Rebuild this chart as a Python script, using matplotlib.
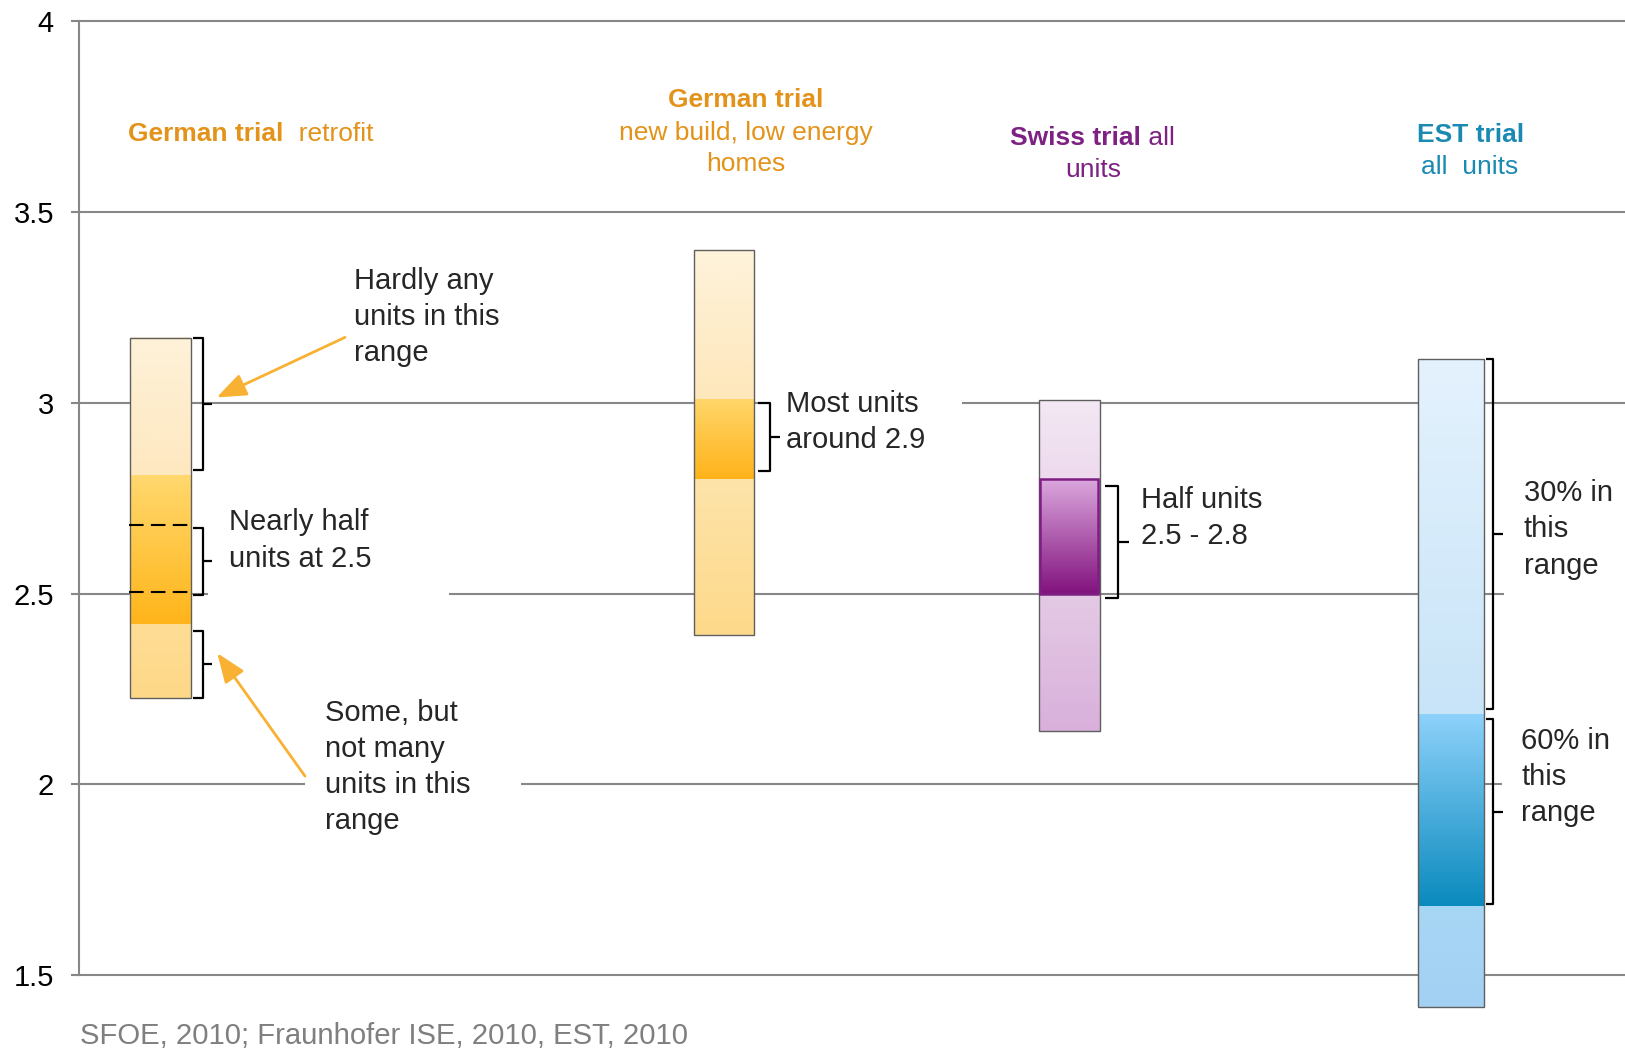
import matplotlib
matplotlib.use('Agg')
import matplotlib.pyplot as plt
import numpy as np
from matplotlib.patches import Rectangle
from matplotlib.path import Path
from matplotlib.patches import PathPatch
from matplotlib.colors import to_rgb

plt.rcParams['font.family'] = ['Liberation Sans', 'DejaVu Sans']

# ---------------- data ----------------
trials = ['German trial retrofit', 'German trial new build', 'Swiss trial', 'EST trial']
range_bottom = [2.225, 2.39, 2.14, 1.415]
core_low = [2.42, 2.80, 2.50, 1.68]
core_high = [2.81, 3.01, 2.80, 2.185]
range_top = [3.17, 3.40, 3.007, 3.115]
retrofit_dashed = [2.68, 2.505]
bracket_ranges = [
    [(2.825, 3.17), (2.496, 2.672), (2.226, 2.402)],
    [(2.822, 3.0)],
    [(2.487, 2.782)],
    [(2.197, 3.116), (1.686, 2.17)],
]
y_ticks = [1.5, 2, 2.5, 3, 3.5, 4]
y_tick_labels = ['1.5', '2', '2.5', '3', '3.5', '4']
source_note = 'SFOE, 2010; Fraunhofer ISE, 2010, EST, 2010'

# ---------------- layout / style ----------------
x_pos = [0.81, 6.45, 9.90, 13.72]
widths = [0.61, 0.605, 0.61, 0.662]
bracket_offsets = [(0.02, 0.12, 0.21), (0.035, 0.155, 0.255), (0.054, 0.184, 0.294), (0.02, 0.09, 0.19)]
seg_colors = [
    # (bottom seg top->bot), (core top->bot), (top seg top->bot)
    [('#FEDD95', '#FED888'), ('#FFD86E', '#FFB51A'), ('#FEF2D9', '#FEE8C0')],
    [('#FEE4AA', '#FDD98A'), ('#FFD66B', '#FFB31A'), ('#FEF3DB', '#FEE7BB')],
    [('#E4CAE5', '#D9B0DB'), ('#DBA7DD', '#82127E'), ('#F3E8F3', '#EDDAED')],
    [('#A8D6F5', '#A2D1F3'), ('#8ED2FB', '#0A8ABD'), ('#E4F2FD', '#C8E4F8')],
]
grid_color = '#878787'
text_color = '#262626'
orange_title = '#E3921A'
purple_title = '#7D2182'
teal_title = '#1A8AB3'
arrow_color = '#F8B133'
note_size = 21
title_size = 19

fig = plt.figure(figsize=(16.25, 10.5), dpi=100)
ax = fig.add_axes([79 / 1625, 75 / 1050, 1546 / 1625, 953.7 / 1050])
ax.set_xlim(0, 15.46)
ax.set_ylim(1.5, 4)

for y in y_ticks:
    ax.axhline(y, color=grid_color, lw=1.5, zorder=1, clip_on=False)
for s in ['top', 'right', 'bottom']:
    ax.spines[s].set_visible(False)
ax.spines['left'].set_color(grid_color)
ax.spines['left'].set_linewidth(1.5)
ax.set_xticks([])
ax.set_yticks(y_ticks)
ax.set_yticklabels(y_tick_labels)
ax.tick_params(axis='y', length=6, width=1.5, color=grid_color, pad=12,
               labelsize=21, labelcolor='black')


def gradient(x0, x1, lo, hi, c_top, c_bot, z=3):
    t = np.linspace(0, 1, 256)[:, None]
    a = np.array(to_rgb(c_top))
    b = np.array(to_rgb(c_bot))
    img = (a * (1 - t) + b * t)[:, None, :]
    im = ax.imshow(img, extent=[x0, x1, lo, hi], aspect='auto',
                   interpolation='bilinear', origin='upper', zorder=z)
    im.set_clip_on(False)


for i in range(len(trials)):
    x0 = x_pos[i] - widths[i] / 2
    x1 = x_pos[i] + widths[i] / 2
    segs = [(range_bottom[i], core_low[i]), (core_low[i], core_high[i]),
            (core_high[i], range_top[i])]
    for (lo, hi), (ct, cb) in zip(segs, seg_colors[i]):
        gradient(x0, x1, lo, hi, ct, cb)
    ax.add_patch(Rectangle((x0, range_bottom[i]), widths[i], range_top[i] - range_bottom[i],
                           fill=False, ec='#5f5f5f', lw=1.0, zorder=4, clip_on=False))
    # brackets
    hs, hv, ht = bracket_offsets[i]
    for lo, hi in bracket_ranges[i]:
        mid = (lo + hi) / 2
        verts = [(x1 + hs, hi), (x1 + hv, hi), (x1 + hv, lo), (x1 + hs, lo),
                 (x1 + hv, mid), (x1 + ht, mid)]
        codes = [Path.MOVETO, Path.LINETO, Path.LINETO, Path.LINETO, Path.MOVETO, Path.LINETO]
        ax.add_patch(PathPatch(Path(verts, codes), fill=False, ec='black', lw=1.6,
                               zorder=6, capstyle='butt', joinstyle='round'))

# Swiss core outline
sx0 = x_pos[2] - widths[2] / 2
ax.add_patch(Rectangle((sx0 + 0.015, core_low[2]), widths[2] - 0.03, core_high[2] - core_low[2],
                       fill=False, ec='#7D1F82', lw=1.8, zorder=5))

# retrofit dashed levels
rx0 = x_pos[0] - widths[0] / 2
ax.hlines(retrofit_dashed, rx0 - 0.01, rx0 + widths[0] - 0.03, colors='black',
          linestyles=(0, (7, 3.5)), lw=1.5, zorder=5)

# white text boxes that mask the gridlines
for (bx0, bx1, by0, by1) in [(1.29, 3.70, 2.45, 2.75), (2.26, 4.42, 1.80, 2.25),
                             (6.79, 8.83, 2.85, 3.05), (14.25, 15.46, 2.45, 2.85),
                             (14.23, 15.46, 1.85, 2.20)]:
    ax.add_patch(Rectangle((bx0, by0), bx1 - bx0, by1 - by0, fc='white', ec='none', zorder=1.5,
                           clip_on=False))

# annotation texts
notes = [
    (2.75, 3.225, 'Hardly any\nunits in this\nrange'),
    (1.50, 2.639, 'Nearly half\nunits at 2.5'),
    (2.46, 2.045, 'Some, but\nnot many\nunits in this\nrange'),
    (7.07, 2.949, 'Most units\naround 2.9'),
    (10.62, 2.698, 'Half units\n2.5 - 2.8'),
    (14.45, 2.668, '30% in\nthis\nrange'),
    (14.42, 2.019, '60% in\nthis\nrange'),
]
for x, y, s in notes:
    ax.text(x, y, s, fontsize=note_size, color=text_color, ha='left', va='center',
            linespacing=1.37, zorder=7)

# arrows
arrow_kw = dict(arrowstyle='-|>,head_length=0.9,head_width=0.35', mutation_scale=20,
                color=arrow_color, lw=2, shrinkA=0, shrinkB=0)
ax.annotate('', xy=(1.377, 3.014), xytext=(2.66, 3.1715), arrowprops=arrow_kw, zorder=7)
ax.annotate('', xy=(1.383, 2.3437), xytext=(2.26, 2.0213), arrowprops=arrow_kw, zorder=7)

# titles
t1 = ax.text(0.495, 3.705, 'German trial', fontsize=title_size, fontweight='bold',
             color=orange_title, ha='left', va='center')
ax.annotate('  retrofit', xy=(1, 0.5), xycoords=t1, fontsize=title_size, color=orange_title,
            ha='left', va='center')

ax.text(6.67, 3.794, 'German trial', fontsize=title_size, fontweight='bold', color=orange_title,
        ha='center', va='center')
ax.text(6.67, 3.667, 'new build, low energy\nhomes', fontsize=title_size, color=orange_title,
        ha='center', va='center', linespacing=1.4)

t3 = ax.text(10.62, 3.694, 'Swiss trial', fontsize=title_size, fontweight='bold',
             color=purple_title, ha='right', va='center')
ax.annotate(' all', xy=(1, 0.5), xycoords=t3, fontsize=title_size, color=purple_title,
            ha='left', va='center')
ax.text(10.14, 3.609, 'units', fontsize=title_size, color=purple_title, ha='center', va='center')

ax.text(13.92, 3.702, 'EST trial', fontsize=title_size, fontweight='bold', color=teal_title,
        ha='center', va='center')
ax.text(13.91, 3.618, 'all  units', fontsize=title_size, color=teal_title, ha='center',
        va='center')

fig.text(80 / 1625, 1 - 1036 / 1050, source_note, fontsize=21.1, color='#7F7F7F',
         ha='left', va='center')

fig.savefig('out.png', dpi=100)
